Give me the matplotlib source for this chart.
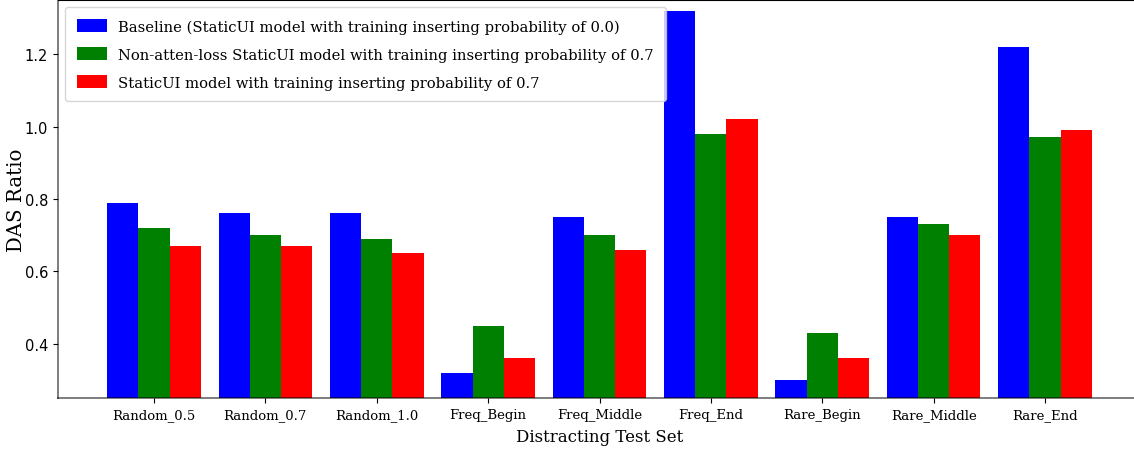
import numpy as np
import matplotlib
matplotlib.use("Agg")
import matplotlib.pyplot as plt

# data
categories = ["Random_0.5", "Random_0.7", "Random_1.0", "Freq_Begin", "Freq_Middle",
              "Freq_End", "Rare_Begin", "Rare_Middle", "Rare_End"]
baseline = [0.79, 0.76, 0.76, 0.32, 0.75, 1.32, 0.30, 0.75, 1.22]
non_atten = [0.72, 0.70, 0.69, 0.45, 0.70, 0.98, 0.43, 0.73, 0.97]
staticui = [0.67, 0.67, 0.65, 0.36, 0.66, 1.02, 0.36, 0.70, 0.99]
labels = ["Baseline (StaticUI model with training inserting probability of 0.0)",
          "Non-atten-loss StaticUI model with training inserting probability of 0.7",
          "StaticUI model with training inserting probability of 0.7"]

serif = "DejaVu Serif"

fig = plt.figure(figsize=(11.34, 4.52), dpi=100)
ax = fig.add_axes([58 / 1134, 1 - 399 / 452, (1141 - 58) / 1134, 398 / 452])

x = np.arange(len(categories))
w = 0.28
ax.bar(x - w, baseline, w, color="blue", label=labels[0])
ax.bar(x, non_atten, w, color="green", label=labels[1])
ax.bar(x + w, staticui, w, color="red", label=labels[2])

ax.set_ylim(0.25, 1.35)
ax.set_yticks([0.4, 0.6, 0.8, 1.0, 1.2])
ax.set_xticks(x)
ax.set_xticklabels(categories, fontsize=9.5, family=serif)
ax.tick_params(axis="y", labelsize=10.5)
ax.set_xlabel("Distracting Test Set", fontsize=12, family=serif, labelpad=5)
ax.set_ylabel("DAS Ratio", fontsize=14.2, family=serif)
ax.yaxis.set_label_coords(-0.0295, 0.5)

for s in ["left", "bottom"]:
    ax.spines[s].set_color((0, 0, 0, 0.55))
    ax.spines[s].set_linewidth(1.3)

ax.legend(loc="upper left", prop=dict(size=10.6, family=serif), handlelength=2.0,
          handleheight=1.0, labelspacing=0.9, borderaxespad=0.5, borderpad=0.8)

fig.savefig("out.png", dpi=100)
